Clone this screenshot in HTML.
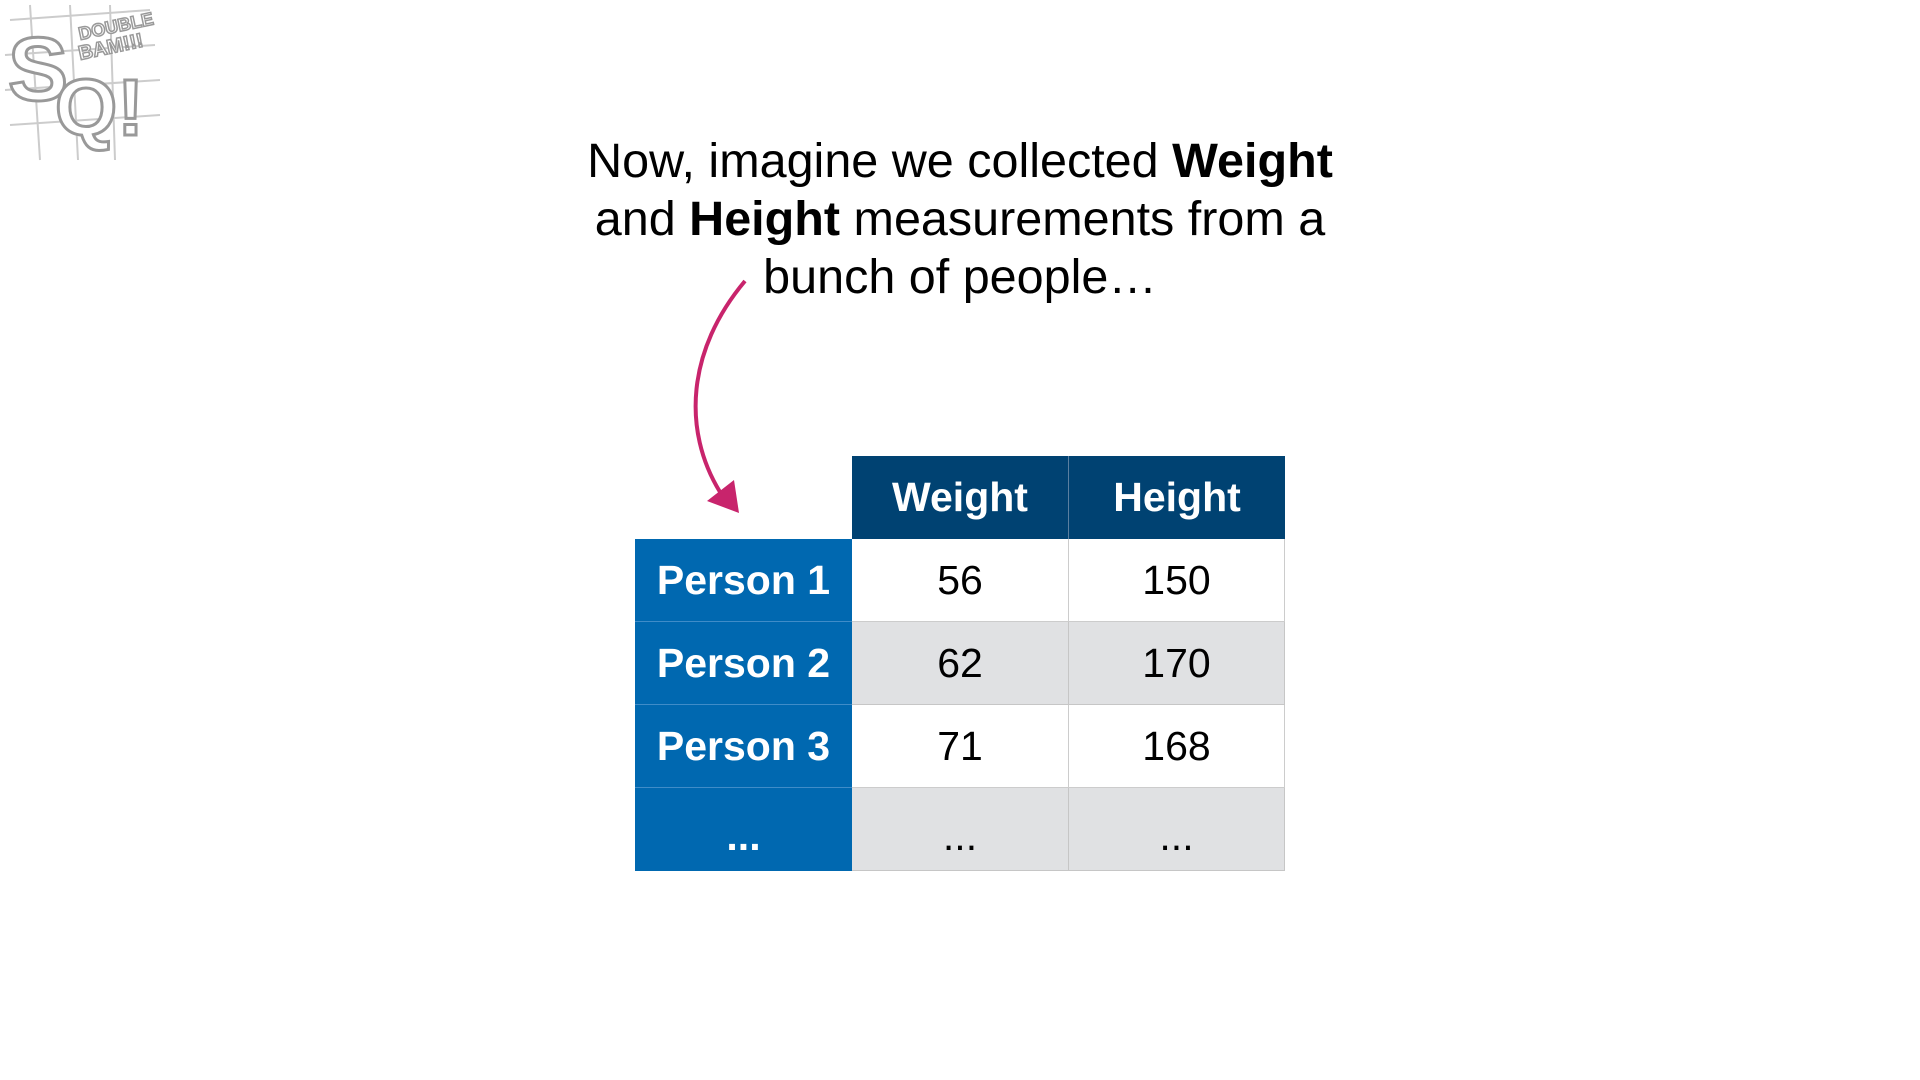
<!DOCTYPE html>
<html><head><meta charset="utf-8"><style>
body{margin:0;width:1920px;height:1080px;background:#fff;position:relative;overflow:hidden;font-family:"Liberation Sans",Arial,sans-serif}
.t{position:absolute;left:360px;width:1200px;text-align:center;font-size:48.5px;line-height:58px;top:132px;color:#000}
.c{position:absolute;box-sizing:border-box;display:flex;align-items:center;justify-content:center;font-size:41px;white-space:nowrap}
.h{background:#004272;color:#fff;font-weight:bold;border-right:1px solid #5a7fa0}
.p{background:#0068b0;color:#fff;font-weight:bold;border-bottom:1px solid #3f8cc8}
.w{background:#fff;border-right:1px solid #ccc;border-bottom:1px solid #ccc}
.g{background:#e0e1e3;border-right:1px solid #c6c6c6;border-bottom:1px solid #c6c6c6}
</style></head><body>
<svg style="position:absolute;left:0;top:0" width="170" height="165">
<g stroke="#ccc" stroke-width="2" fill="none">
<path d="M10 20 L150 10 M5 55 L155 45 M5 90 L160 80 M10 125 L160 115 M30 5 L40 160 M70 5 L78 160 M110 5 L115 160"/>
</g>
<text x="8" y="100" font-size="90" font-weight="bold" fill="#fff" stroke="#999" stroke-width="3" font-family="Liberation Sans">S</text>
<text x="55" y="135" font-size="80" font-weight="bold" fill="#fff" stroke="#999" stroke-width="3" font-family="Liberation Sans">Q!</text>
<text x="80" y="40" font-size="18" font-weight="bold" fill="#fff" stroke="#999" stroke-width="1.5" font-family="Liberation Sans" transform="rotate(-12 80 40)">DOUBLE</text>
<text x="80" y="60" font-size="20" font-weight="bold" fill="#fff" stroke="#999" stroke-width="1.5" font-family="Liberation Sans" transform="rotate(-12 80 60)">BAM!!!</text>
</svg>
<div class="t">Now, imagine we collected <b>Weight</b><br>and <b>Height</b> measurements from a<br>bunch of people…</div>
<svg style="position:absolute;left:0;top:0" width="1920" height="1080">
<path d="M745 281 C687 350 682 430 720 492" stroke="#c8246c" stroke-width="4" fill="none"/>
<path d="M707 501 L734 480 L739 513 Z" fill="#c8246c"/>
</svg>
<div>
<div class="c h" style="left:852px;top:456px;width:217px;height:83px">Weight</div>
<div class="c h" style="left:1069px;top:456px;width:216px;height:83px;border-right:none">Height</div>
<div class="c p" style="left:635px;top:539px;width:217px;height:83px">Person 1</div>
<div class="c w" style="left:852px;top:539px;width:217px;height:83px">56</div>
<div class="c w" style="left:1069px;top:539px;width:216px;height:83px">150</div>
<div class="c p" style="left:635px;top:622px;width:217px;height:83px">Person 2</div>
<div class="c g" style="left:852px;top:622px;width:217px;height:83px">62</div>
<div class="c g" style="left:1069px;top:622px;width:216px;height:83px">170</div>
<div class="c p" style="left:635px;top:705px;width:217px;height:83px">Person 3</div>
<div class="c w" style="left:852px;top:705px;width:217px;height:83px">71</div>
<div class="c w" style="left:1069px;top:705px;width:216px;height:83px">168</div>
<div class="c p" style="left:635px;top:788px;width:217px;height:83px;border-bottom:none;padding-top:14px">...</div>
<div class="c g" style="left:852px;top:788px;width:217px;height:83px;padding-top:14px">...</div>
<div class="c g" style="left:1069px;top:788px;width:216px;height:83px;padding-top:14px">...</div>
</div>
</body></html>
